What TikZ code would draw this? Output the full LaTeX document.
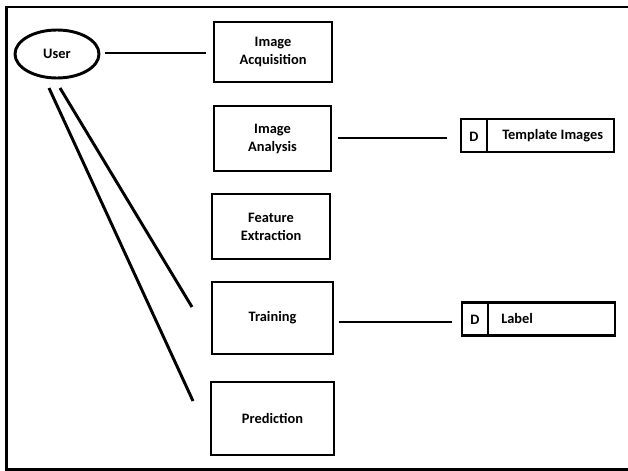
\documentclass[tikz,border=0pt]{standalone}
\usepackage{fontspec}
\setmainfont{Carlito}
\usetikzlibrary{shapes.geometric}
\begin{document}
\begin{tikzpicture}[x=0.75pt,y=-0.75pt,
  every node/.style={font=\bfseries\fontsize{10.8}{13.5}\selectfont},
  proc/.style={draw,line width=2.2pt,rectangle,align=center,inner sep=0pt},
  store/.style={draw,line width=1.9pt,rectangle,inner sep=0pt,minimum height=33*0.75pt,minimum width=153*0.75pt},
  lbl/.style={inner sep=0pt,anchor=west},
  conn/.style={line width=2.2pt}]
\useasboundingbox (0,0) rectangle (628,471);
\fill[white] (0,0) rectangle (628,471);
% frame
\draw[line width=2.2pt] (628,7) -- (6.5,7) -- (6.5,469.5) -- (628,469.5);
% user
\node[draw,ellipse,line width=2.2pt,minimum width=84*0.75pt,minimum height=48*0.75pt,inner sep=0pt] (user) at (57,54) {User};
% processes
\node[proc,minimum width=118*0.75pt,minimum height=60*0.75pt] (acq) at (273,52) {Image\\Acquisition};
\node[proc,minimum width=117*0.75pt,minimum height=65*0.75pt] (ana) at (272.5,138.5) {Image\\Analysis};
\node[proc,minimum width=118*0.75pt,minimum height=65*0.75pt] (feat) at (271,226.5) {Feature\\Extraction};
\node[proc,minimum width=121*0.75pt,minimum height=72*0.75pt] (train) at (272.5,318) {Training};
\node[proc,minimum width=123*0.75pt,minimum height=73*0.75pt] (pred) at (272.5,418.5) {Prediction};
% data stores
\node[store] (tmpl) at (537.5,135.5) {};
\coordinate (t1) at (487,119);
\coordinate (t2) at (487,152);
\draw[line width=1.6pt] (t1) -- (t2);
\node (d1) at (474,136.5) {D};
\node[lbl] (tmpltext) at (502,135.5) {Template Images};
\node[store] (lab) at (538.5,319) {};
\coordinate (s1) at (488,302.5);
\coordinate (s2) at (488,335.5);
\draw[line width=1.6pt] (s1) -- (s2);
\node (d2) at (475,320) {D};
\node[lbl] (labtext) at (501,318.5) {Label};
% connectors
\coordinate (u1) at (105,53);
\coordinate (a1) at (206,53);
\draw[conn] (u1) -- (a1);
\coordinate (b1) at (338,138);
\coordinate (b2) at (447,138);
\draw[conn] (b1) -- (b2);
\coordinate (c1) at (339,322);
\coordinate (c2) at (452,322);
\draw[conn] (c1) -- (c2);
\coordinate (l1a) at (60,88);
\coordinate (l1b) at (192,307);
\draw[conn] (l1a) -- (l1b);
\coordinate (l2a) at (49,88);
\coordinate (l2b) at (193,401);
\draw[conn] (l2a) -- (l2b);
\end{tikzpicture}
\end{document}
